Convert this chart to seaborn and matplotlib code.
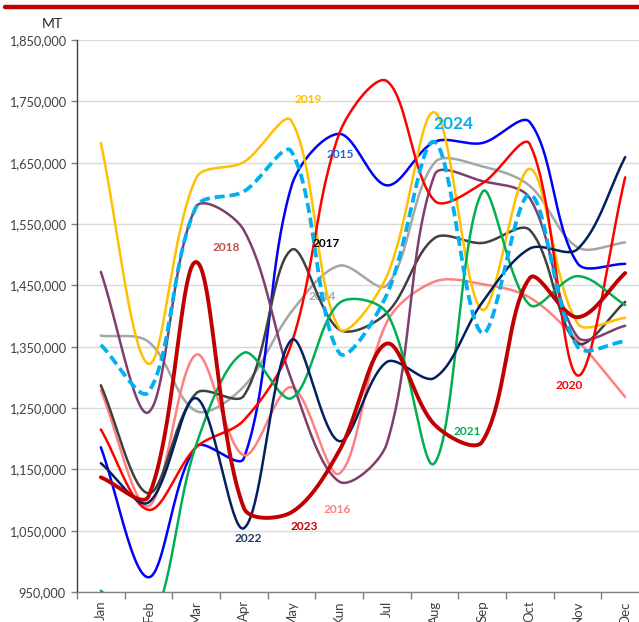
import numpy as np
import pandas as pd
import matplotlib
matplotlib.use("Agg")
import matplotlib.pyplot as plt
from matplotlib.lines import Line2D
from matplotlib.ticker import FixedLocator, FuncFormatter
import seaborn as sns

# ---------------- data ----------------
months = ["Jan", "Feb", "Mar", "Apr", "May", "Kun", "Jul", "Aug", "Sep", "Oct", "Nov", "Dec"]

y2014 = [1368000, 1358000, 1245000, 1285000, 1407000, 1482000, 1450000, 1650000, 1644000, 1612000, 1512000, 1520000]
y2015 = [1186000, 974000, 1187000, 1168000, 1612000, 1697000, 1613000, 1684000, 1682000, 1716000, 1486000, 1485000]
y2016 = [1279000, 1090000, 1337000, 1173000, 1284000, 1143000, 1390000, 1456000, 1452000, 1430000, 1360000, 1268000]
y2017 = [1287000, 1111000, 1274000, 1270000, 1508000, 1378000, 1405000, 1527000, 1519000, 1540000, 1356000, 1423000]
y2018 = [1472000, 1243000, 1578000, 1540000, 1296000, 1130000, 1192000, 1630000, 1620000, 1592000, 1366000, 1384000]
y2019 = [1682000, 1322000, 1625000, 1651000, 1718000, 1380000, 1465000, 1732000, 1410000, 1640000, 1388000, 1397000]
y2020 = [1215000, 1084000, 1186000, 1230000, 1355000, 1697000, 1783000, 1588000, 1616000, 1680000, 1303000, 1626000]
y2021 = [952000, 890000, 1190000, 1340000, 1266000, 1421000, 1405000, 1160000, 1602000, 1418000, 1465000, 1418000]
y2022 = [1160000, 1096000, 1266000, 1054000, 1361000, 1196000, 1325000, 1299000, 1422000, 1510000, 1509000, 1659000]
y2023 = [1137000, 1106000, 1488000, 1087000, 1080000, 1180000, 1355000, 1223000, 1195000, 1462000, 1398000, 1470000]
y2024 = [1353000, 1276000, 1578000, 1603000, 1668000, 1340000, 1435000, 1684000, 1372000, 1598000, 1350000, 1359000]

years = ["2014", "2015", "2016", "2017", "2018", "2019", "2020", "2021", "2022", "2023", "2024"]
series = [y2014, y2015, y2016, y2017, y2018, y2019, y2020, y2021, y2022, y2023, y2024]

yticks = [950000, 1050000, 1150000, 1250000, 1350000, 1450000, 1550000, 1650000, 1750000, 1850000]

# ---------------- styles ----------------
colors = {
    "2014": "#A6A6A6", "2015": "#0000FF", "2016": "#FF8080", "2017": "#404040",
    "2018": "#7F3F6B", "2019": "#FFC000", "2020": "#FF0000", "2021": "#00B050",
    "2022": "#002060", "2023": "#C00000", "2024": "#00B0F0",
}
widths = {y: 1.8 for y in years}
widths["2023"] = 2.8
widths["2024"] = 2.7

label_colors = dict(colors)
label_colors["2015"] = "#1F63E6"
label_colors["2018"] = "#C0504D"
label_colors["2017"] = "#000000"
label_colors["2022"] = "#1F3864"

# label positions (data coordinates)
label_pos = {
    "2019": (4.36, 1753000), "2015": (5.03, 1664000), "2024": (7.40, 1713000),
    "2018": (2.64, 1512000), "2017": (4.72, 1519000), "2014": (4.65, 1431000),
    "2022": (3.10, 1038000), "2023": (4.26, 1056000), "2016": (4.95, 1085000),
    "2021": (7.69, 1211000), "2020": (9.83, 1287000),
}
label_sizes = {y: 8.6 for y in years}
label_sizes["2024"] = 12.5

# pixel scale of the plot (used only to shape the smoothing like a spreadsheet)
PX_PER_MONTH = 47.67
PX_PER_UNIT = 61.33 / 100000


def smooth(vals, n=40):
    """Excel-like smoothed line: Bezier segments with chord-weighted tangents."""
    P = np.column_stack([np.arange(len(vals)) * PX_PER_MONTH,
                         np.asarray(vals, dtype=float) * PX_PER_UNIT])
    t = np.linspace(0, 1, n, endpoint=False)[:, None]
    pts = []
    last = len(P) - 1
    for i in range(last):
        P0 = P[i - 1] if i > 0 else P[i]
        P1, P2 = P[i], P[i + 1]
        P3 = P[i + 2] if i + 2 <= last else P[i + 1]
        d01 = np.linalg.norm(P1 - P0)
        d12 = np.linalg.norm(P2 - P1)
        d23 = np.linalg.norm(P3 - P2)
        c1 = P1 + (P2 - P0) * d12 / (d01 + d12) / 3.0
        c2 = P2 - (P3 - P1) * d12 / (d12 + d23) / 3.0
        B = ((1 - t) ** 3) * P1 + 3 * ((1 - t) ** 2) * t * c1 \
            + 3 * (1 - t) * t ** 2 * c2 + t ** 3 * P2
        pts.append(B)
    pts.append(P[-1:])
    pts = np.vstack(pts)
    return pts[:, 0] / PX_PER_MONTH, pts[:, 1] / PX_PER_UNIT


sns.set_style("white")
plt.rcParams["font.family"] = ["Lato", "DejaVu Sans"]

W, H = 639, 622
fig = plt.figure(figsize=(W / 100, H / 100), dpi=100)
ax = fig.add_axes([77 / W, 30 / H, 572 / W, 552 / H])

for yr, vals in zip(years, series):
    sx, sy = smooth(vals)
    df = pd.DataFrame({"month": sx, "MT": sy})
    kw = {}
    if yr == "2024":
        kw["linestyle"] = (0, (2.7, 1.3))
        kw["dash_capstyle"] = "butt"
    sns.lineplot(data=df, x="month", y="MT", ax=ax, color=colors[yr],
                 linewidth=widths[yr], estimator=None, sort=False,
                 zorder=3, **kw)

for yr in years:
    x, y = label_pos[yr]
    ax.text(x, y, yr, color=label_colors[yr], fontsize=label_sizes[yr],
            fontweight="bold", ha="center", va="center",
            zorder=2 if yr == "2014" else 5)

ax.set_xlim(-0.5, 11.5)
ax.set_ylim(yticks[0], yticks[-1])
ax.yaxis.set_major_locator(FixedLocator(yticks))
ax.yaxis.set_major_formatter(FuncFormatter(lambda v, p: f"{v:,.0f}"))
ax.grid(axis="y", color="#D9D9D9", linewidth=1.0, zorder=0)
ax.set_axisbelow(True)

ax.xaxis.set_major_locator(FixedLocator(np.arange(-0.5, 12.0, 1.0)))
ax.xaxis.set_major_formatter(FuncFormatter(lambda v, p: ""))
ax.set_xticks(np.arange(12), labels=months, minor=True)
ax.tick_params(axis="x", which="major", length=5, width=1, color="#808080",
               direction="out", bottom=True)
ax.tick_params(axis="x", which="minor", length=0, pad=6, labelsize=9.5,
               labelrotation=90, labelcolor="#404040", bottom=True)
for lab in ax.get_xticklabels(minor=True):
    lab.set_va("top")
    lab.set_ha("center")
ax.tick_params(axis="y", which="major", length=4, width=1, color="#808080",
               direction="out", left=True, pad=4, labelsize=9.2,
               labelcolor="#404040")

ax.set_xlabel("")
ax.set_ylabel("")
for s in ["top", "right"]:
    ax.spines[s].set_visible(False)
ax.spines["left"].set_color("#404040")
ax.spines["left"].set_linewidth(1.0)
ax.spines["bottom"].set_color("#808080")
ax.spines["bottom"].set_linewidth(1.0)

fig.text(52 / W, 1 - 24 / H, "MT", fontsize=10, color="#262626",
         ha="center", va="center")
fig.add_artist(Line2D([5 / W, 1.0], [1 - 7 / H, 1 - 7 / H],
                      transform=fig.transFigure, color="#C00000", linewidth=3.2))

fig.savefig("out.png", dpi=100)
